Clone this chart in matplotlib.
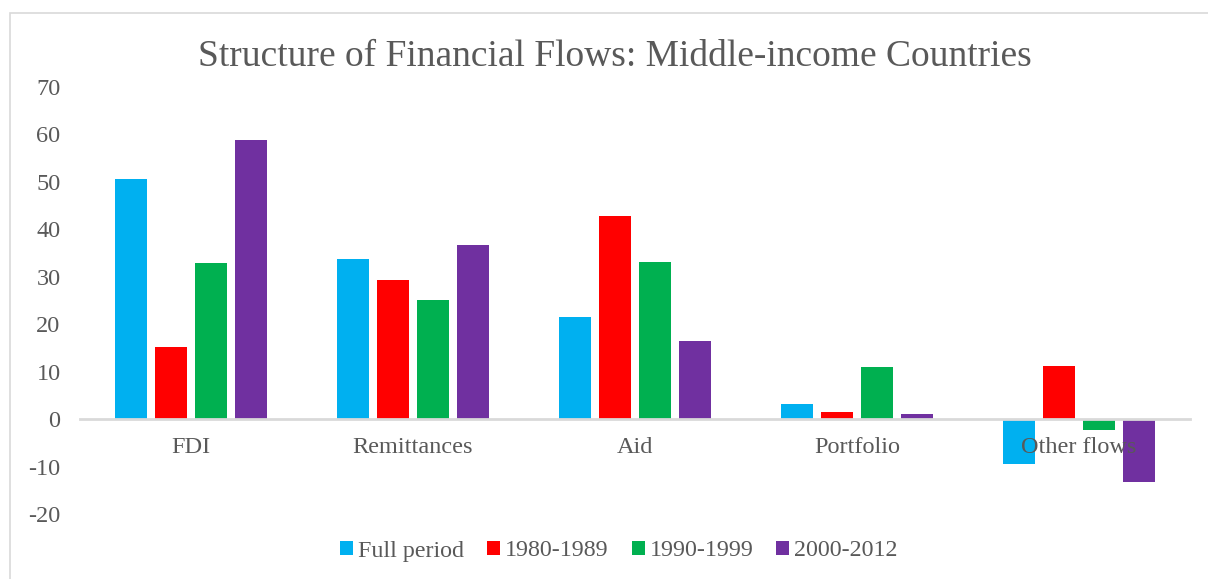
import matplotlib.pyplot as plt
import numpy as np
from matplotlib.patches import Rectangle

categories = ["FDI", "Remittances", "Aid", "Portfolio", "Other flows"]
series_names = ["Full period", "1980-1989", "1990-1999", "2000-2012"]
full_period = [50.7, 33.8, 21.6, 3.2, -9.5]
p1980s = [15.1, 29.4, 42.9, 1.4, 11.1]
p1990s = [33.0, 25.2, 33.2, 10.9, -2.3]
p2000s = [58.9, 36.8, 16.4, 1.0, -13.3]
colors = ["#00B0F0", "#FF0000", "#00B050", "#7030A0"]

plt.rcParams['font.family'] = ['Liberation Serif', 'DejaVu Serif']
plt.rcParams['axes.unicode_minus'] = False
text_gray = "#595959"

fig = plt.figure(figsize=(12.08, 5.79), dpi=100)
# chart frame
fig.patches.append(Rectangle((10 / 1208, -0.1), 1.2, (579 - 13) / 579 + 0.1,
                             transform=fig.transFigure, fill=False,
                             edgecolor="#d9d9d9", linewidth=1.2))

ax = fig.add_axes([80 / 1208, (579 - 514) / 579, 1110 / 1208, 427 / 579])

x = np.arange(len(categories))
width = 0.144
step = 0.18
for i, (vals, name) in enumerate(zip([full_period, p1980s, p1990s, p2000s], series_names)):
    ax.bar(x + (i - 1.5) * step, vals, width, color=colors[i], label=name, zorder=2)

ax.set_xlim(-0.5, len(categories) - 0.5)
ax.set_ylim(-20, 70)
ax.set_yticks(range(-20, 71, 10))
ax.set_xticks(x)
ax.set_xticklabels(categories)
ax.set_axisbelow(False)  # category labels sit on top of the bars

for s in ["top", "right", "left"]:
    ax.spines[s].set_visible(False)
ax.spines["bottom"].set_position(("data", 0))
ax.spines["bottom"].set_color("#d9d9d9")
ax.spines["bottom"].set_linewidth(2)
ax.tick_params(axis="x", length=0, pad=13, labelsize=17.5, labelcolor=text_gray)
ax.tick_params(axis="y", length=0, pad=14, labelsize=17.5, labelcolor=text_gray)

fig.text(615 / 1208, 1 - 57 / 579, "Structure of Financial Flows: Middle-income Countries",
         ha="center", va="center", fontsize=27, color=text_gray)

leg = fig.legend(loc="center", bbox_to_anchor=(619 / 1208, 1 - 551 / 579), ncol=4,
                 frameon=False, fontsize=17.3, handlelength=0.55, handleheight=0.55,
                 handletextpad=0.2, columnspacing=0.95)
for t in leg.get_texts():
    t.set_color(text_gray)

fig.savefig("out.png", dpi=100)
